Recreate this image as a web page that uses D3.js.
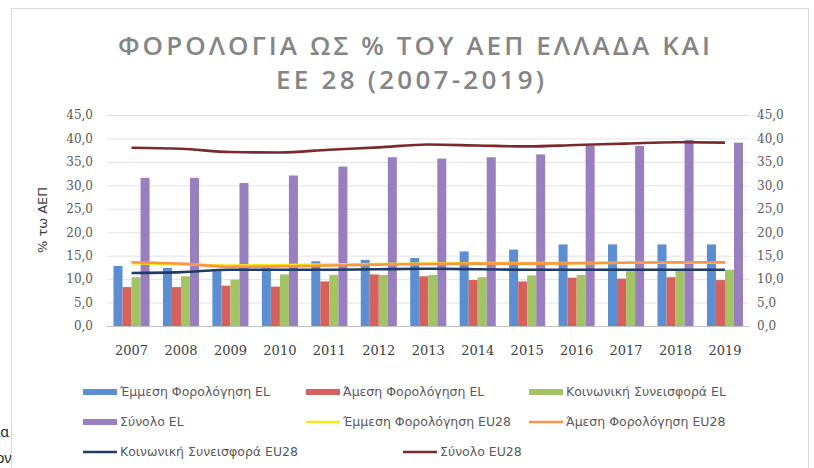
<!DOCTYPE html>
<html>
<head>
<meta charset="utf-8">
<script src="https://cdn.jsdelivr.net/npm/d3@7"></script>
<style>
  body { margin: 0; background: #fff; }
  svg { display: block; }
</style>
</head>
<body>
<div id="chart"></div>
<script>
// data
var years = ["2007","2008","2009","2010","2011","2012","2013","2014","2015","2016","2017","2018","2019"];
var indirectEL = [12.8, 12.4, 11.7, 12.3, 13.8, 14.1, 14.5, 15.9, 16.3, 17.4, 17.4, 17.4, 17.4];
var directEL   = [8.3, 8.3, 8.6, 8.4, 9.5, 11.0, 10.6, 9.8, 9.5, 10.3, 10.1, 10.4, 9.8];
var socialEL   = [10.4, 10.6, 9.9, 11.0, 10.9, 10.9, 10.9, 10.4, 10.8, 10.9, 11.7, 11.8, 12.0];
var totalEL    = [31.6, 31.6, 30.5, 32.1, 34.0, 36.0, 35.7, 36.0, 36.6, 38.4, 38.4, 39.7, 39.1];
var indirectEU = [13.4, 13.2, 12.9, 13.0, 13.1, 13.2, 13.3, 13.4, 13.4, 13.4, 13.5, 13.5, 13.5];
var directEU   = [13.6, 13.3, 12.6, 12.7, 12.9, 13.1, 13.2, 13.3, 13.3, 13.4, 13.5, 13.6, 13.6];
var socialEU   = [11.3, 11.5, 12.0, 12.0, 12.0, 12.1, 12.2, 12.1, 12.0, 12.0, 12.0, 12.0, 12.0];
var totalEU    = [38.0, 37.8, 37.1, 37.0, 37.6, 38.1, 38.7, 38.5, 38.3, 38.6, 38.9, 39.2, 39.1];
var yTicks = [0, 5, 10, 15, 20, 25, 30, 35, 40, 45];

var barNames  = ["Έμμεση Φορολόγηση EL", "Άμεση Φορολόγηση EL", "Κοινωνική Συνεισφορά EL", "Σύνολο EL"];
var lineNames = ["Έμμεση Φορολόγηση EU28", "Άμεση Φορολόγηση EU28", "Κοινωνική Συνεισφορά EU28", "Σύνολο EU28"];
var barColors  = ["#5b8fd2", "#d6605c", "#a3c464", "#9a7fc0"];
var lineColors = ["#f6e616", "#f79646", "#1f3b66", "#7a2a2a"];

var barSeries = [indirectEL, directEL, socialEL, totalEL];
var lineSeries = [indirectEU, directEU, socialEU, totalEU];

var W = 814, H = 468;
var svg = d3.select("#chart").append("svg")
    .attr("width", W)
    .attr("height", H);

// chart frame
svg.append("rect")
    .attr("x", 11.5).attr("y", 8.5)
    .attr("width", 797).attr("height", 480)
    .attr("fill", "#fff")
    .attr("stroke", "#d9d9d9");

// bits of text cut off at the left edge (as in the screenshot)
svg.append("text").attr("x", -4).attr("y", 437).attr("font-family", "Noto Sans").attr("font-size", 14).attr("fill", "#222").text("ια");
svg.append("text").attr("x", -4).attr("y", 463).attr("font-family", "Noto Sans").attr("font-size", 14).attr("fill", "#222").text("ον");

// title
var title = svg.append("g")
    .attr("fill", "#858585")
    .attr("font-family", "Open Sans")
    .attr("font-weight", 600)
    .attr("font-size", 26)
    .attr("text-anchor", "middle");
title.append("text").attr("x", 414).attr("y", 55)
    .attr("textLength", 592).attr("lengthAdjust", "spacing")
    .text("ΦΟΡΟΛΟΓΙΑ ΩΣ % ΤΟΥ ΑΕΠ ΕΛΛΑΔΑ ΚΑΙ");
title.append("text").attr("x", 410).attr("y", 89)
    .attr("textLength", 268).attr("lengthAdjust", "spacing")
    .text("ΕΕ 28 (2007-2019)");

// scales
var x = d3.scaleBand()
    .domain(years)
    .range([106.8, 749.7])
    .paddingInner(0.27)
    .paddingOuter(0.135);

var xs = d3.scaleBand()
    .domain(d3.range(barSeries.length))
    .range([0, x.bandwidth()]);

var y = d3.scaleLinear()
    .domain([0, 45])
    .range([326, 115]);

var plot = svg.append("g");

// gridlines
plot.selectAll("line.grid")
  .data(yTicks)
  .enter().append("line")
    .attr("class", "grid")
    .attr("x1", 106.8).attr("x2", 749.7)
    .attr("y1", function(d) { return y(d) + 0.5; })
    .attr("y2", function(d) { return y(d) + 0.5; })
    .attr("stroke", function(d) { return d === 0 ? "#bfbfbf" : "#e3e3e3"; })
    .attr("stroke-width", 1);

// y axes, left and right
var fmt = function(d) { return d3.format(".1f")(d).replace(".", ","); };
var yAxisL = svg.append("g")
    .attr("transform", "translate(97,0)")
    .call(d3.axisLeft(y).tickValues(yTicks).tickSize(0).tickPadding(4).tickFormat(fmt));
var yAxisR = svg.append("g")
    .attr("transform", "translate(756,0)")
    .call(d3.axisRight(y).tickValues(yTicks).tickSize(0).tickPadding(1).tickFormat(fmt));
[yAxisL, yAxisR].forEach(function(a) {
  a.select(".domain").remove();
  a.selectAll("text")
    .attr("font-family", "DejaVu Serif")
    .attr("font-size", 12)
    .attr("fill", "#595959");
});

// x axis
var xAxis = svg.append("g")
    .attr("transform", "translate(0,338)")
    .call(d3.axisBottom(x).tickSize(0).tickPadding(8));
xAxis.select(".domain").remove();
xAxis.selectAll("text")
    .attr("font-family", "DejaVu Serif")
    .attr("font-size", 13)
    .attr("fill", "#404040");

// y axis title
svg.append("text")
    .attr("transform", "translate(47,220) rotate(-90)")
    .attr("text-anchor", "middle")
    .attr("font-family", "DejaVu Sans")
    .attr("font-size", 13)
    .attr("fill", "#404040")
    .text("% τω ΑΕΠ");

// bars
barSeries.forEach(function(vals, i) {
  plot.selectAll("rect.s" + i)
    .data(vals)
    .enter().append("rect")
      .attr("class", "s" + i)
      .attr("x", function(d, j) { return x(years[j]) + xs(i); })
      .attr("y", function(d) { return y(d); })
      .attr("width", xs.bandwidth())
      .attr("height", function(d) { return y(0) - y(d); })
      .attr("fill", barColors[i]);
});

// lines
var line = d3.line()
    .x(function(d, j) { return x(years[j]) + x.bandwidth() / 2; })
    .y(function(d) { return y(d); })
    .curve(d3.curveMonotoneX);

lineSeries.forEach(function(vals, i) {
  plot.append("path")
    .datum(vals)
    .attr("d", line)
    .attr("fill", "none")
    .attr("stroke", lineColors[i])
    .attr("stroke-width", 2.6);
});

// legend
var legendItems = [
  {name: barNames[0],  color: barColors[0],  kind: "bar",  x: 83,  y: 392},
  {name: barNames[1],  color: barColors[1],  kind: "bar",  x: 306, y: 392},
  {name: barNames[2],  color: barColors[2],  kind: "bar",  x: 529, y: 392},
  {name: barNames[3],  color: barColors[3],  kind: "bar",  x: 83,  y: 422},
  {name: lineNames[0], color: lineColors[0], kind: "line", x: 306, y: 422},
  {name: lineNames[1], color: lineColors[1], kind: "line", x: 529, y: 422},
  {name: lineNames[2], color: lineColors[2], kind: "line", x: 83,  y: 452},
  {name: lineNames[3], color: lineColors[3], kind: "line", x: 403, y: 452}
];

var leg = svg.selectAll("g.leg")
  .data(legendItems)
  .enter().append("g")
    .attr("class", "leg")
    .attr("transform", function(d) { return "translate(" + d.x + "," + d.y + ")"; });

leg.filter(function(d) { return d.kind === "bar"; })
  .append("rect")
    .attr("x", 0).attr("y", -3)
    .attr("width", 34).attr("height", 6)
    .attr("fill", function(d) { return d.color; });

leg.filter(function(d) { return d.kind === "line"; })
  .append("line")
    .attr("x1", 0).attr("x2", 34)
    .attr("y1", 0).attr("y2", 0)
    .attr("stroke", function(d) { return d.color; })
    .attr("stroke-width", 2.5);

leg.append("text")
    .attr("x", 37)
    .attr("y", 4)
    .attr("font-family", "DejaVu Sans")
    .attr("font-size", 12.5)
    .attr("fill", "#595959")
    .text(function(d) { return d.name; });
</script>
</body>
</html>
